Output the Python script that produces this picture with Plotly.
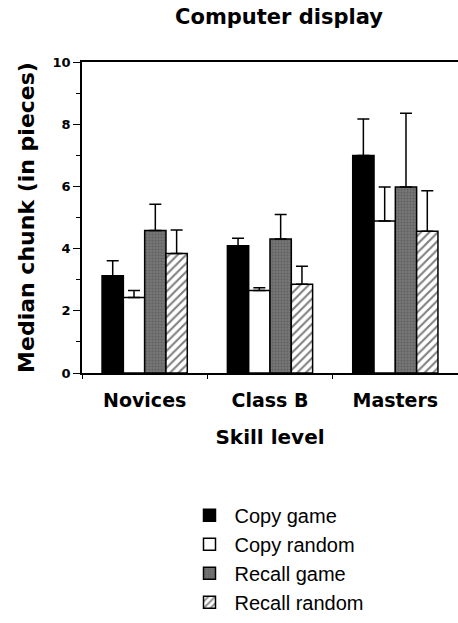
import plotly.graph_objects as go

categories = ["Novices", "Class B", "Masters"]
series_names = ["Copy game", "Copy random", "Recall game", "Recall random"]

copy_game = [3.13, 4.09, 6.99]
copy_game_top = [3.61, 4.33, 8.17]
copy_random = [2.43, 2.65, 4.89]
copy_random_top = [2.65, 2.74, 5.98]
recall_game = [4.58, 4.31, 5.98]
recall_game_top = [5.43, 5.10, 8.35]
recall_random = [3.84, 2.85, 4.56]
recall_random_top = [4.60, 3.43, 5.86]

y_ticks = [0, 2, 4, 6, 8, 10]

values = [copy_game, copy_random, recall_game, recall_random]
tops = [copy_game_top, copy_random_top, recall_game_top, recall_random_top]

styles = [
    dict(color="#000000"),
    dict(color="#ffffff"),
    dict(color="#6e6e6e", pattern=dict(shape=".", fgcolor="#4a4a4a", bgcolor="#777777", size=3, solidity=0.4)),
    dict(color="#ffffff", pattern=dict(shape="/", fgcolor="#000000", bgcolor="#ffffff", size=6, solidity=0.35)),
]

fig = go.Figure()
for i, name in enumerate(series_names):
    up = [t - v for t, v in zip(tops[i], values[i])]
    fig.add_trace(go.Bar(
        x=categories, y=values[i], name=name,
        legendgroup=name,
        marker=dict(line=dict(color="#000000", width=1.5), **styles[i]),
        error_y=dict(type="data", symmetric=False, array=up, arrayminus=[0] * len(up),
                     color="#000000", thickness=1.5, width=6),
    ))

BOLD = "DejaVu Sans"
fig.update_layout(
    width=458, height=623,
    margin=dict(l=82, r=0, t=62, b=250, autoexpand=False),
    paper_bgcolor="white", plot_bgcolor="white",
    barmode="group", bargap=0.32, bargroupgap=0,
    title=dict(text="Computer display", x=279 / 458, xanchor="center",
               y=1 - 17 / 623, yanchor="middle",
               font=dict(family=BOLD, size=21, color="black", weight="bold")),
    showlegend=True,
    legend=dict(x=0.2726, y=-0.395, xanchor="left", yanchor="top",
                font=dict(family="Liberation Sans, Arial", size=20, color="black"),
                itemwidth=40, tracegroupgap=0, bgcolor="rgba(0,0,0,0)"),
    xaxis=dict(
        range=[-0.5, 2.5], showline=True, linecolor="black", linewidth=1.5, mirror=True,
        ticks="outside", tickson="boundaries", ticklen=4, tickcolor="black",
        tickfont=dict(family=BOLD, size=19, color="black", weight="bold"),
        ticklabelstandoff=9, automargin=False,
        title=dict(text="Skill level", standoff=20,
                   font=dict(family=BOLD, size=20, color="black", weight="bold")),
        showgrid=False, zeroline=False, fixedrange=True,
    ),
    yaxis=dict(
        range=[0, 10], tickvals=y_ticks, showline=True, linecolor="black", linewidth=1.5,
        ticks="outside", ticklen=7, tickcolor="black", tickwidth=1.2, automargin=False,
        minor=dict(dtick=1, ticks="outside", ticklen=4, tickcolor="black", tickwidth=1.2, showgrid=False),
        tickfont=dict(family=BOLD, size=13, color="black", weight="bold"),
        title=dict(text="Median chunk (in pieces)", standoff=12,
                   font=dict(family=BOLD, size=22, color="black", weight="bold")),
        showgrid=False, zeroline=False, fixedrange=True,
    ),
)

fig.write_html("out.html", config={"displayModeBar": False},
               post_script="document.body.style.margin='0';")
